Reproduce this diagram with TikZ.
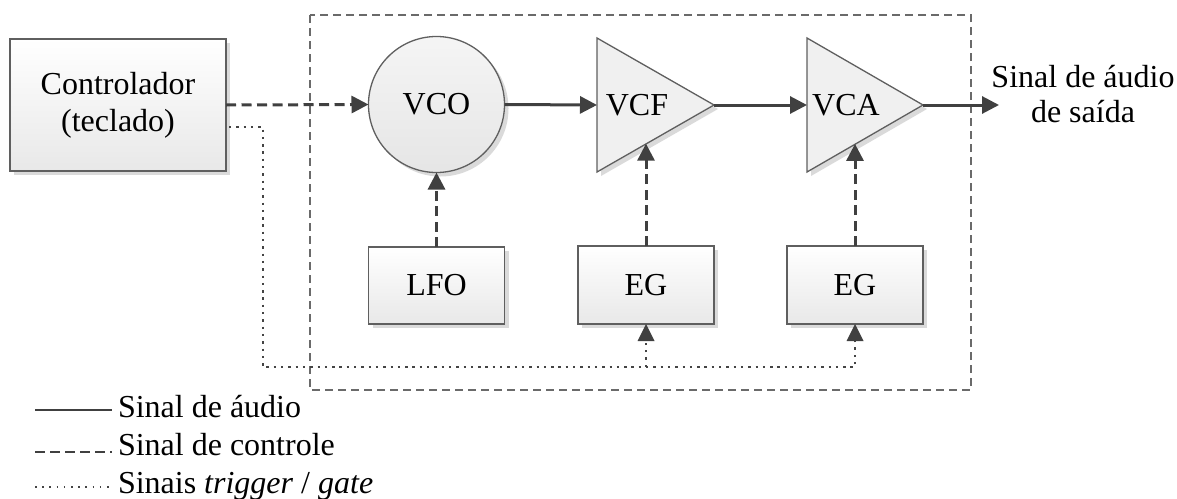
\documentclass[tikz,border=0pt]{standalone}
\usepackage{fontspec}
\setmainfont{Liberation Serif}
\usetikzlibrary{arrows.meta,shadows,calc}
\definecolor{ln}{HTML}{404040}
\definecolor{bd}{HTML}{5F5F5F}
\definecolor{ob}{HTML}{6A6A6A}
\definecolor{sh}{HTML}{DADADA}
\definecolor{trgc}{HTML}{444444}
\begin{document}
\begin{tikzpicture}[x=1pt,y=-1pt,
  every node/.style={font=\fontsize{32}{37}\selectfont, inner sep=0pt, outer sep=0pt},
  tip/.style={-{Triangle[length=17pt,width=17pt]}},
  blk/.style={draw=bd, line width=1.3pt, top color=white, bottom color=black!9,
    drop shadow={shadow xshift=4pt, shadow yshift=-4pt, fill=sh, opacity=1},
    minimum width=136pt, minimum height=77pt},
  aud/.style={draw=ln, line width=3pt, tip},
  ctl/.style={draw=ln, line width=3pt, dash pattern=on 10pt off 5.5pt, tip},
  trg/.style={draw=trgc, line width=2.6pt, dash pattern=on 2.4pt off 4.9pt},
  tri/.style={draw=bd, line width=1.3pt, fill=black!6},
  trish/.style={fill=sh},
  frame/.style={draw=ob, line width=1.6pt, dash pattern=on 8pt off 5pt}
]
\useasboundingbox (0,0) rectangle (1177,498);

% outer dashed frame
\draw[frame] (310,15) rectangle (971,390);

% controller
\node[blk, minimum width=216pt, minimum height=132pt, align=center] (ctrl) at (118,105)
  {Controlador\\(teclado)};

% VCO
\node[circle, draw=bd, line width=1.3pt, top color=white!96!black, bottom color=black!10,
  drop shadow={shadow xshift=4pt, shadow yshift=-4pt, fill=sh, opacity=1},
  minimum size=136pt] (vco) at (436.5,104.5) {VCO};

% VCF triangle
\coordinate (vcfa) at (597,38);
\coordinate (vcfb) at (597,172);
\coordinate (vcft) at (714,105);
\fill[trish] ($(vcfa)+(4,4)$) -- ($(vcft)+(4,4)$) -- ($(vcfb)+(4,4)$) -- cycle;
\draw[tri] (vcfa) -- (vcft) -- (vcfb) -- cycle;
\node (vcf) at (637,105.5) {VCF};

% VCA triangle
\coordinate (vcaa) at (807,38);
\coordinate (vcab) at (807,172);
\coordinate (vcat) at (923,105);
\fill[trish] ($(vcaa)+(4,4)$) -- ($(vcat)+(4,4)$) -- ($(vcab)+(4,4)$) -- cycle;
\draw[tri] (vcaa) -- (vcat) -- (vcab) -- cycle;
\node (vca) at (846,105.5) {VCA};

% lower blocks
\node[blk] (lfo) at (436.5,285.5) {LFO};
\node[blk, minimum height=78pt] (eg1) at (646,285) {EG};
\node[blk, minimum height=78pt] (eg2) at (855,285) {EG};

% output label
\node[align=center, font=\fontsize{32}{35}\selectfont] (out) at (1083,94.5)
  {Sinal de áudio\\de saída};
\coordinate (outend) at (999,105);

% coordinates on triangle edges
\coordinate (vcfin) at (597,105);
\coordinate (vcain) at (807,105);
\coordinate (vcfc) at ($(vcfb)!0.4231!(vcft)$);
\coordinate (vcac) at ($(vcab)!0.4198!(vcat)$);
\coordinate (tbus) at (263,367);

% audio path
\draw[aud] (vco.east) -- (vcfin);
\draw[aud] (vcft) -- (vcain);
\draw[aud] (vcat) -- (outend);

% control signals
\draw[ctl] (ctrl.east) -- (vco.west);
\draw[ctl] (lfo.north) -- (vco.south);
\draw[ctl] (eg1.north) -- (eg1.north |- vcfc);
\draw[ctl] (eg2.north) -- (eg2.north |- vcac);

% trigger / gate
\draw[trg] ([xshift=3pt, yshift=-22pt]ctrl.east) -| (tbus) -| ([yshift=-16pt]eg2.south);
\draw[trg] (eg1.south |- tbus) -- ([yshift=-16pt]eg1.south);
\fill[ln] (eg1.south) -- ++(-8.5,17) -- ++(17,0) -- cycle;
\fill[ln] (eg2.south) -- ++(-8.5,17) -- ++(17,0) -- cycle;

% legend
\node[anchor=base west] (l1) at (118,417) {Sinal de áudio};
\node[anchor=base west] (l2) at (118,455) {Sinal de controle};
\node[anchor=base west] (l3) at (118,493) {Sinais \textit{trigger} / \textit{gate}};
\draw[draw=ln, line width=2.6pt] ([shift={(-83pt,7pt)}]l1.base west) -- ([shift={(-6pt,7pt)}]l1.base west);
\draw[draw=ln, line width=2.6pt, dash pattern=on 10pt off 5pt] ([shift={(-83pt,3pt)}]l2.base west) -- ([shift={(-6pt,3pt)}]l2.base west);
\draw[draw=trgc, line width=1.6pt, dash pattern=on 1.6pt off 5.6pt] ([shift={(-83pt,6pt)}]l3.base west) -- ([shift={(-6pt,6pt)}]l3.base west);
\end{tikzpicture}
\end{document}
